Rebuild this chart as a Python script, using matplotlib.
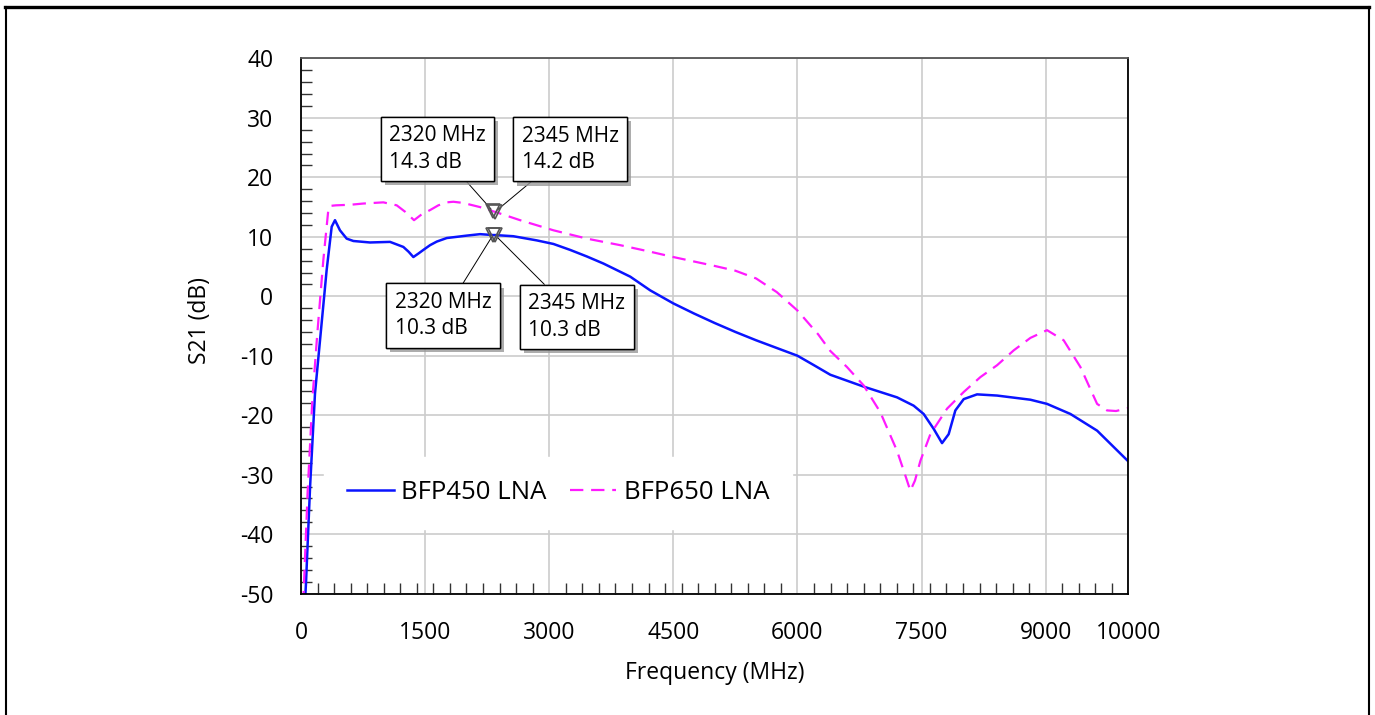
import numpy as np
import matplotlib
matplotlib.use('Agg')
import matplotlib.pyplot as plt
import matplotlib.patheffects as pe
from matplotlib.lines import Line2D

plt.rcParams['font.family'] = ['Open Sans', 'DejaVu Sans']
plt.rcParams['axes.unicode_minus'] = False

# S21 of the two LNAs (MHz, dB)
bfp450_freq = [50, 60, 110, 169, 230, 310, 371, 411, 471, 552, 633, 834, 1076, 1237, 1300, 1358,
               1420, 1479, 1560, 1641, 1762, 1883, 2000, 2164, 2320, 2345, 2567, 2850, 3051, 3253,
               3454, 3656, 3979, 4220, 4500, 4750, 5000, 5250, 5500, 5750, 6000, 6200, 6397, 6800,
               7203, 7404, 7525, 7646, 7747, 7827, 7908, 8009, 8170, 8412, 8815, 9016, 9299, 9621, 10000]
bfp450_s21 = [-51, -48.4, -32, -16.4, -7.4, 4.4, 11.7, 12.8, 11.1, 9.7, 9.3, 9.05, 9.15, 8.3, 7.5, 6.6,
              7.2, 7.8, 8.6, 9.2, 9.8, 10.0, 10.2, 10.45, 10.3, 10.3, 10.1, 9.4, 8.8, 7.8,
              6.7, 5.5, 3.3, 1.0, -1.2, -2.9, -4.5, -6.0, -7.4, -8.7, -10.0, -11.6, -13.2, -15.2,
              -17.0, -18.4, -19.8, -22.3, -24.7, -23.2, -19.2, -17.3, -16.5, -16.7, -17.4, -18.1, -19.8,
              -22.6, -27.8]

bfp650_freq = [25, 36, 80, 137, 197, 270, 330, 350, 423, 600, 753, 995, 1157, 1260, 1366, 1460,
               1560, 1660, 1762, 1842, 1962, 2164, 2320, 2345, 2648, 3051, 3454, 3857, 4220, 4500,
               5000, 5250, 5500, 5750, 6000, 6250, 6397, 6598, 6800, 7001, 7203, 7300, 7364, 7420,
               7485, 7606, 7808, 8009, 8210, 8412, 8613, 8815, 9016, 9217, 9419, 9621, 9741, 9850, 10000]
bfp650_s21 = [-51.8, -48.4, -33, -17.5, -6.3, 6.1, 14.5, 15.2, 15.3, 15.4, 15.6, 15.8, 15.3, 14.2, 12.8, 13.8,
              14.5, 15.3, 15.8, 15.9, 15.7, 15.0, 14.3, 14.2, 12.8, 11.1, 9.7, 8.6, 7.5, 6.6,
              5.1, 4.3, 3.0, 0.7, -2.4, -6.4, -9.2, -11.9, -15.0, -19.5, -26.0, -30.0, -32.7, -31.0,
              -27.7, -23.2, -18.9, -16.1, -13.6, -11.6, -9.1, -7.0, -5.7, -7.4, -11.9, -18.1, -19.2,
              -19.3, -18.8]

# markers: (freq, dB, text offset in points)
marker_freq = [2320, 2345, 2320, 2345]
marker_s21 = [14.3, 14.2, 10.3, 10.3]
marker_offset = [(-40, 45), (54, 45), (-36, -58), (59, -59)]

x_ticks = [0, 1500, 3000, 4500, 6000, 7500, 9000, 10000]
y_ticks = list(range(-50, 41, 10))

fig = plt.figure(figsize=(13.75, 7.15), dpi=100)
ax = fig.add_axes([0.2189, 0.1699, 0.6018, 0.7483])

ax.plot(bfp450_freq, bfp450_s21, color='#0a14ff', lw=1.8, label='BFP450 LNA')
ax.plot(bfp650_freq, bfp650_s21, color='#ff1aff', lw=1.6, dashes=(6, 3.5), label='BFP650 LNA')

ax.set_xlim(0, 10000)
ax.set_ylim(-50, 40)

ax.set_xticks(x_ticks)
ax.set_xticklabels([str(t) for t in x_ticks])
ax.set_yticks(y_ticks)
ax.set_xticks(np.arange(0, 10001, 200), minor=True)
ax.set_yticks(np.arange(-50, 41, 2), minor=True)
ax.tick_params(which='major', length=0, labelsize=16.5, pad=20, colors='black')
ax.tick_params(which='minor', direction='in', length=8, width=1, color='#333333')
ax.grid(which='major', color='#cccccc', lw=1.2)
ax.set_axisbelow(True)

for side in ['left', 'bottom', 'right']:
    ax.spines[side].set_color('black')
    ax.spines[side].set_linewidth(1.3)
ax.spines['top'].set_color('#555555')
ax.spines['top'].set_linewidth(1.3)

ax.set_xlabel('Frequency (MHz)', fontsize=16.5)
ax.xaxis.set_label_coords(0.5, -0.149)
ax.xaxis.label.set_va('center')
ax.set_ylabel('S21 (dB)', fontsize=16.5)
ax.yaxis.set_label_coords(-0.122, 0.511)
ax.yaxis.label.set_va('center')

# marker triangles and their readout boxes
ax.plot(marker_freq, marker_s21, ls='none', marker='v', ms=10, mfc='none', mec='#555555', mew=1.2, zorder=5)
for f, v, off in zip(marker_freq, marker_s21, marker_offset):
    ann = ax.annotate('%d MHz\n%.1f dB' % (f, v), xy=(f, v), xytext=off, textcoords='offset points',
                      ha='center', va='center', multialignment='left', fontsize=15, linespacing=1.35,
                      bbox=dict(boxstyle='square,pad=0.4', fc='white', ec='black', lw=1),
                      arrowprops=dict(arrowstyle='-', color='black', lw=0.7, shrinkA=0, shrinkB=2))
    ann.get_bbox_patch().set_path_effects([
        pe.withSimplePatchShadow(offset=(3, -3), shadow_rgbFace='#999999', alpha=0.8), pe.Normal()])

leg = ax.legend(loc='center', bbox_to_anchor=(0.311, 0.188), ncol=2, fontsize=18.5, frameon=True,
                fancybox=False, edgecolor='white', framealpha=1, handlelength=1.8, handletextpad=0.3,
                columnspacing=0.9, borderpad=0.9)

# outer frame of the figure
fig.add_artist(Line2D([5/1375, 1369/1375], [1 - 7/715, 1 - 7/715], color='black', lw=2.4))
fig.add_artist(Line2D([6/1375, 6/1375], [0, 1 - 7/715], color='black', lw=1.5))
fig.add_artist(Line2D([1368.5/1375, 1368.5/1375], [0, 1 - 7/715], color='black', lw=1.5))

fig.savefig('out.png', dpi=100)
